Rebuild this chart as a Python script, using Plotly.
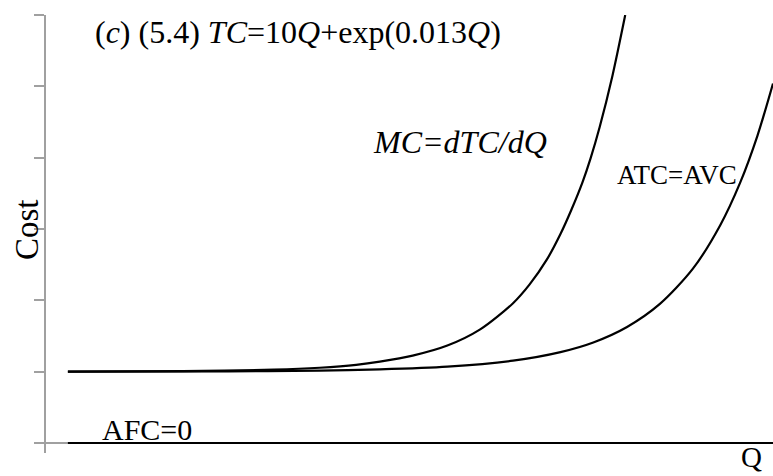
import plotly.graph_objects as go

# Data (Q units, cost units)
mc_q = [24, 150, 250, 300, 340, 366, 402, 440, 476, 512, 530, 549, 564, 576, 588, 597, 607, 621, 635]
mc_c = [10, 10.07, 10.28, 10.55, 10.95, 11.4, 12.25, 13.66, 15.93, 19.6, 22.2, 25.7, 29.3, 32.7, 36.5, 39.9, 44.3, 51.5, 60]

atc_q = [24, 200, 300, 366, 440, 512, 564, 600, 637, 673, 709, 739, 761, 780, 797]
atc_c = [10, 10.05, 10.15, 10.32, 10.7, 11.55, 12.75, 14.1, 16.27, 19.5, 24.4, 30.5, 36.5, 43.1, 50.4]

afc_q = [24, 797]
afc_c = [0, 0]

y_ticks = [0, 10, 20, 30, 40, 50, 60]

FONT = "Liberation Serif, Times New Roman, serif"

fig = go.Figure()
line = dict(color="black", width=2.2, shape="spline", smoothing=0.8)
fig.add_trace(go.Scatter(x=mc_q, y=mc_c, mode="lines", line=line, hoverinfo="skip"))
fig.add_trace(go.Scatter(x=atc_q, y=atc_c, mode="lines", line=line, hoverinfo="skip"))
fig.add_trace(go.Scatter(x=afc_q, y=afc_c, mode="lines",
                         line=dict(color="black", width=2.2), hoverinfo="skip"))

W, H = 773, 476
L, R, T, B = 46, 0, 15, 23
pw, ph = W - L - R, H - T - B

def px(x):
    return (x - L) / pw

def py(y):
    return (H - B - y) / ph

ann = []
def add(text, x, y, size=30, **kw):
    d = dict(text=text, x=px(x), y=py(y), xref="paper", yref="paper",
             showarrow=False, font=dict(family=FONT, size=size, color="black"),
             xanchor="center", yanchor="middle")
    d.update(kw)
    ann.append(d)

add("(<i>c</i>) (5.4) <i>TC</i>=10<i>Q</i>+exp(0.013<i>Q</i>)", 93, 32, size=32, xanchor="left")
add("<i>MC=dTC/dQ</i>", 460, 142, size=32)
add("ATC=AVC", 677, 175, size=27)
add("AFC=0", 147, 429)
add("Q", 751, 457, size=29)
add("Cost", 27, 230, size=33, textangle=-90)

fig.update_layout(
    width=W, height=H,
    margin=dict(l=L, r=R, t=T, b=B),
    paper_bgcolor="white", plot_bgcolor="white",
    showlegend=False,
    annotations=ann,
    xaxis=dict(range=[0, 797], showgrid=False, zeroline=False, showline=False,
               showticklabels=False, ticks=""),
    yaxis=dict(range=[-1.4, 60], showgrid=False, zeroline=True,
               zerolinecolor="#a0a0a0", zerolinewidth=1.5,
               showline=True, linecolor="#a0a0a0", linewidth=1.5,
               ticks="outside", ticklen=10, tickwidth=1.5, tickcolor="#a0a0a0",
               tickvals=y_ticks, showticklabels=False),
)

fig.write_html("out.html", config={"displayModeBar": False},
               post_script="document.body.style.margin='0';document.body.style.padding='0';")
